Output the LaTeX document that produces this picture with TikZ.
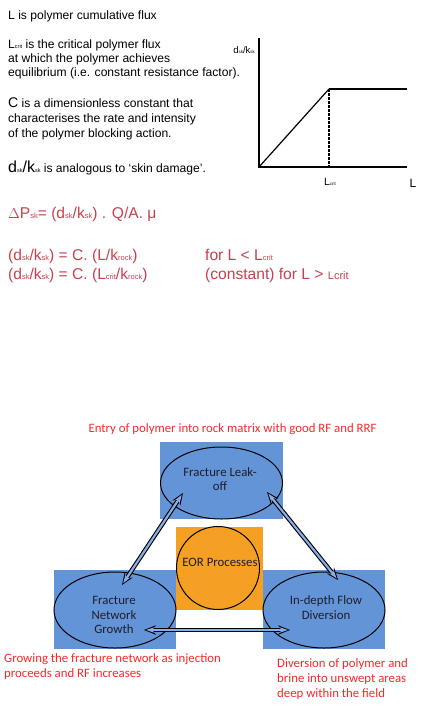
\documentclass[tikz,border=0pt]{standalone}
\usepackage{fontspec}
\setmainfont{Liberation Sans}
\newfontfamily\carl{Carlito}
\usetikzlibrary{arrows.meta,shapes.geometric}
\definecolor{eqred}{HTML}{C8414E}
\definecolor{capred}{HTML}{F52A2A}
\definecolor{boxblue}{HTML}{6494D8}
\definecolor{arrblue}{HTML}{86AEE8}
\definecolor{eororange}{HTML}{F5A023}
\definecolor{inktext}{HTML}{1E1E2A}
\newcommand{\sbx}[1]{{\fontsize{5.5}{5.5}\selectfont #1}}
\newcommand{\sby}[1]{{\fontsize{7.5}{7.5}\selectfont #1}}
\newcommand{\sbz}[1]{{\fontsize{4.4}{4.4}\selectfont #1}}
\begin{document}
\begin{tikzpicture}[x=1pt,y=-1pt,
  txt/.style={anchor=base west, inner sep=0pt, font=\fontsize{12.1}{14}\selectfont},
  eqtxt/.style={anchor=base west, inner sep=0pt, text=eqred, font=\fontsize{15.6}{17}\selectfont},
  captxt/.style={anchor=base west, inner sep=0pt, text=capred, font=\carl\fontsize{12.8}{15}\selectfont},
  intxt/.style={inner sep=0pt, text=inktext, align=center, font=\carl\fontsize{12.8}{14.6}\selectfont},
  bluebox/.style={fill=boxblue, draw=none},
  ell/.style={ellipse, draw=black, line width=1pt, fill=boxblue, inner sep=0pt, minimum width=122pt, minimum height=74pt},
  axis/.style={line width=2pt, black},
  dbl/.style={line width=4.4pt, draw=black,
    {Stealth[length=12pt,width=9.5pt,line width=0pt]}-{Stealth[length=12pt,width=9.5pt,line width=0pt]},
    postaction={draw=arrblue, line width=2.2pt, shorten <=2.2pt, shorten >=2.2pt,
      {Stealth[length=8.5pt,width=5.8pt,line width=0pt]}-{Stealth[length=8.5pt,width=5.8pt,line width=0pt]}}}
]
\useasboundingbox (0,0) rectangle (425,709);
\fill[white] (0,0) rectangle (425,709);

% ---- top explanatory text
\node[txt] (t1) at (8,19.5) {L is polymer cumulative flux};
\node[txt] (t2) at (8,48.5) {L\sbx{crit} is the critical polymer flux};
\node[txt] (t3) at (8,62.5) {at which the polymer achieves};
\node[txt] (t4) at (8,76.5) {equilibrium (i.e. constant resistance factor).};
\node[txt] (t5) at (8,107.5) {{\fontsize{14}{14}\selectfont C} is a dimensionless constant that};
\node[txt] (t6) at (8,122.5) {characterises the rate and intensity};
\node[txt] (t7) at (8,137.5) {of the polymer blocking action.};
\node[txt] (t8) at (8,172) {{\fontsize{16}{14}\selectfont d}\sbx{sk}{\fontsize{16}{14}\selectfont /k}\sbx{sk} is analogous to `skin damage'.};

% ---- graph
\draw[axis] (259,38) -- (259,167) -- (407,167);
\draw[line width=1.2pt] (259,167) -- (329,89);
\draw[axis] (329,89) -- (407,89);
\draw[line width=1.6pt, dash pattern=on 2.5pt off 1.5pt] (329,89) -- (329,167);
\node[anchor=base east, inner sep=0pt, font=\fontsize{9.5}{9}\selectfont] (gy) at (255,53) {d\sbz{sk}/k\sbz{sk}};
\node[anchor=base, inner sep=0pt, font=\fontsize{10.5}{10}\selectfont] (gx) at (330,185) {L\sbz{crit}};
\node[anchor=base, inner sep=0pt, font=\fontsize{12}{11}\selectfont] (gl) at (413,187) {L};

% ---- red equations
\node[eqtxt] (e1) at (8,218) {$\Delta$P\sby{sk}= (d\sby{sk}/k\sby{sk}) . Q/A. μ};
\node[eqtxt] (e2) at (8,260) {(d\sby{sk}/k\sby{sk}) = C. (L/k\sby{rock})};
\node[eqtxt] (e3) at (8,279) {(d\sby{sk}/k\sby{sk}) = C. (L\sby{crit}/k\sby{rock})};
\node[eqtxt] (e4) at (205,260) {for L < L\sby{crit}};
\node[eqtxt] (e5) at (205,279) {(constant) for L > {\fontsize{11}{11}\selectfont Lcrit}};

% ---- bottom diagram
\node[anchor=base, inner sep=0pt, text=capred, font=\carl\fontsize{12.8}{14}\selectfont] (cap) at (232.5,432) {Entry of polymer into rock matrix with good RF and RRF};

\fill[bluebox] (160,442) rectangle (283,519);
\fill[bluebox] (54,570) rectangle (176,649);
\fill[bluebox] (263,570) rectangle (385,649);
\fill[eororange] (176,527) rectangle (263,610);

\node[ell, minimum height=72pt] (leak) at (221.5,483) {};
\node[ell, minimum height=76pt] (grow) at (115,610) {};
\node[ell, minimum height=76pt] (div) at (324,610) {};
\node[circle, draw=black, line width=1pt, fill=eororange, minimum size=83pt, inner sep=0pt] (eor) at (218,568) {};

\node[intxt] (leakt) at (220,479) {Fracture Leak-\\off};
\node[intxt] (growt) at (114,615) {Fracture\\Network\\Growth};
\node[intxt] (divt) at (326,607.5) {In-depth Flow\\Diversion};
\node[intxt] (eort) at (220,562) {EOR Processes};

\coordinate (a1) at (122,585);
\coordinate (a2) at (183,493);
\coordinate (b1) at (267,492);
\coordinate (b2) at (338,580);
\coordinate (c1) at (144,630);
\coordinate (c2) at (290,630);
\draw[dbl] (a1) -- (a2);
\draw[dbl] (b1) -- (b2);
\draw[dbl] (c1) -- (c2);

\node[captxt] (gcap1) at (4,662) {Growing the fracture network as injection};
\node[captxt] (gcap2) at (4,677.5) {proceeds and RF increases};
\node[captxt] (dcap1) at (277,667.5) {Diversion of polymer and};
\node[captxt] (dcap2) at (277,682.5) {brine into unswept areas};
\node[captxt] (dcap3) at (277,697.5) {deep within the field};
\end{tikzpicture}
\end{document}
